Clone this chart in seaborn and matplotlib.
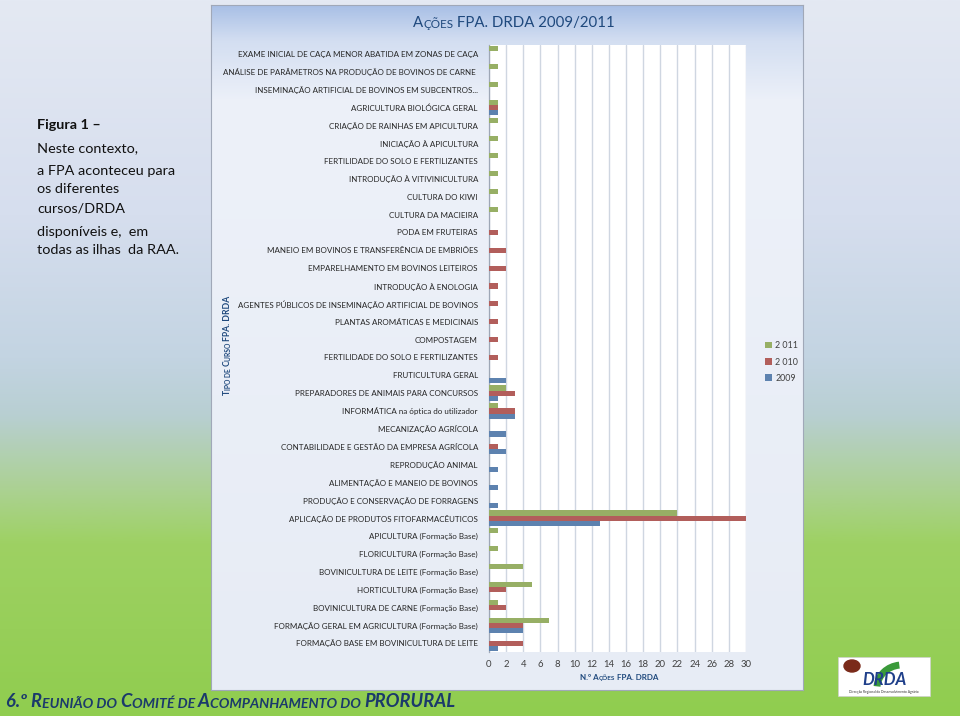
import numpy as np
import pandas as pd
import seaborn as sns
import matplotlib.pyplot as plt
from matplotlib.colors import LinearSegmentedColormap
from matplotlib.patches import Rectangle, Arc, Ellipse

# dados (de cima para baixo)
cursos = [
    "EXAME INICIAL DE CAÇA MENOR ABATIDA EM ZONAS DE CAÇA",
    "ANÁLISE DE PARÂMETROS NA PRODUÇÃO DE BOVINOS DE CARNE ",
    "INSEMINAÇÃO ARTIFICIAL DE BOVINOS EM SUBCENTROS...",
    "AGRICULTURA BIOLÓGICA GERAL",
    "CRIAÇÃO DE RAINHAS EM APICULTURA",
    "INICIAÇÃO À APICULTURA",
    "FERTILIDADE DO SOLO E FERTILIZANTES",
    "INTRODUÇÃO À VITIVINICULTURA",
    "CULTURA DO KIWI",
    "CULTURA DA MACIEIRA",
    "PODA EM FRUTEIRAS",
    "MANEIO EM BOVINOS E TRANSFERÊNCIA DE EMBRIÕES",
    "EMPARELHAMENTO EM BOVINOS LEITEIROS",
    "INTRODUÇÃO À ENOLOGIA",
    "AGENTES PÚBLICOS DE INSEMINAÇÃO ARTIFICIAL DE BOVINOS",
    "PLANTAS AROMÁTICAS E MEDICINAIS",
    "COMPOSTAGEM",
    "FERTILIDADE DO SOLO E FERTILIZANTES",
    "FRUTICULTURA GERAL",
    "PREPARADORES DE ANIMAIS PARA CONCURSOS",
    "INFORMÁTICA na óptica do utilizador",
    "MECANIZAÇÃO AGRÍCOLA",
    "CONTABILIDADE E GESTÃO DA EMPRESA AGRÍCOLA",
    "REPRODUÇÃO ANIMAL",
    "ALIMENTAÇÃO E MANEIO DE BOVINOS",
    "PRODUÇÃO E CONSERVAÇÃO DE FORRAGENS",
    "APLICAÇÃO DE PRODUTOS FITOFARMACÊUTICOS",
    "APICULTURA (Formação Base)",
    "FLORICULTURA (Formação Base)",
    "BOVINICULTURA DE LEITE (Formação Base)",
    "HORTICULTURA (Formação Base)",
    "BOVINICULTURA DE CARNE (Formação Base)",
    "FORMAÇÃO GERAL EM AGRICULTURA (Formação Base)",
    "FORMAÇÃO BASE EM BOVINICULTURA DE LEITE",
]
v2011 = [1, 1, 1, 1, 1, 1, 1, 1, 1, 1, 0, 0, 0, 0, 0, 0, 0, 0,
         0, 2, 1, 0, 0, 0, 0, 0, 22, 1, 1, 4, 5, 1, 7, 0]
v2010 = [0, 0, 0, 1, 0, 0, 0, 0, 0, 0, 1, 2, 2, 1, 1, 1, 1, 1,
         0, 3, 3, 0, 1, 0, 0, 0, 30, 0, 0, 0, 2, 2, 4, 4]
v2009 = [0, 0, 0, 1, 0, 0, 0, 0, 0, 0, 0, 0, 0, 0, 0, 0, 0, 0,
         2, 1, 3, 2, 2, 1, 1, 1, 13, 0, 0, 0, 0, 0, 4, 1]
anos = ["2 011", "2 010", "2009"]
cores = ["#9bbb59", "#c0504d", "#4f81bd"]
xticks = list(range(0, 31, 2))

# tabela longa (id único porque há um curso repetido)
ids = [f"c{i:02d}" for i in range(len(cursos))]
df = pd.concat([
    pd.DataFrame({"id": ids, "ano": ano, "n": vals})
    for ano, vals in zip(anos, [v2011, v2010, v2009])
])

sns.set_theme(style="white")
plt.rcParams["font.family"] = ["Lato", "DejaVu Sans"]
azul = "#1f497d"

W, H = 960, 716
fig = plt.figure(figsize=(9.6, 7.16), dpi=100)


def fx(px):
    return px / W


def fy(py):
    return 1 - py / H


def gradiente(rect, stops):
    a = fig.add_axes(rect)
    cmap = LinearSegmentedColormap.from_list("g", stops)
    a.imshow(np.linspace(0, 1, 256).reshape(-1, 1), aspect="auto", cmap=cmap,
             extent=[0, 1, 0, 1], origin="upper")
    a.set_xticks([])
    a.set_yticks([])
    return a


# fundo do diapositivo
bg = gradiente([0, 0, 1, 1], [(0, "#e4e9f3"), (0.3, "#d6deee"), (0.5, "#c3d4e2"),
                             (0.58, "#b8cfd2"), (0.68, "#acd195"), (0.76, "#9ed163"),
                             (1, "#90cd4f")])
for s in bg.spines.values():
    s.set_visible(False)

# caixa do gráfico
box = gradiente([fx(211), fy(690), fx(803 - 211), (690 - 5) / H],
                [(0, "#a9c0e6"), (0.05, "#d3def1"), (0.14, "#edf1f9"), (1, "#e7ecf5")])
for s in box.spines.values():
    s.set_color("#a0a8b8")
    s.set_linewidth(0.8)

# gráfico de barras
ax = fig.add_axes([fx(489), fy(652), fx(746 - 489), (652 - 45) / H])
ax.set_facecolor("white")
sns.barplot(data=df, y="id", x="n", hue="ano", hue_order=anos, palette=cores,
            order=ids, orient="h", width=0.86, linewidth=0, ax=ax, zorder=3)
ax.set_xlim(0, 30)
ax.set_ylim(len(cursos) - 0.5, -0.5)
ax.set_xticks(xticks)
ax.set_xticklabels([str(t) for t in xticks], fontsize=6.8, color="#404040")
ax.set_yticks(range(len(cursos)))
ax.set_yticklabels(cursos, fontsize=5.8, color="#262626")
ax.tick_params(axis="y", length=0, pad=8)
ax.tick_params(axis="x", length=3, color="#c4ccd8", pad=3)
ax.grid(axis="x", color="#cfd6e1", linewidth=1)
ax.set_axisbelow(True)
ax.set_xlabel("")
ax.set_ylabel("")
for k in ["top", "right", "bottom"]:
    ax.spines[k].set_visible(False)
ax.spines["left"].set_color("#9ea7b6")
ax.spines["left"].set_linewidth(0.9)

ax.legend(frameon=False, loc="center left", bbox_to_anchor=(fx(761), fy(362)),
          bbox_transform=fig.transFigure, fontsize=6.4, handlelength=0.7,
          handleheight=0.7, handletextpad=0.4, labelspacing=0.8, borderpad=0,
          labelcolor="#404040")

# camada de texto por cima de tudo
top = fig.add_axes([0, 0, 1, 1], facecolor="none")
top.set_axis_off()
top.set_zorder(10)


def cadeia(x, y, partes, rot=0, **kw):
    # texto em "versaletes": pedaços encadeados
    t = top.annotate(partes[0][0], xy=(x, y), xycoords="figure fraction",
                     fontsize=partes[0][1], rotation=rot,
                     ha="left" if rot == 0 else "right", va="bottom",
                     annotation_clip=False, **kw)
    for s, fs in partes[1:]:
        if rot == 0:
            t = top.annotate(s, xy=(1, 0), xycoords=t, fontsize=fs, ha="left",
                             va="bottom", annotation_clip=False, **kw)
        else:
            t = top.annotate(s, xy=(1, 1), xycoords=t, fontsize=fs, rotation=rot,
                             ha="right", va="bottom", annotation_clip=False, **kw)
    return t


# título
cadeia(fx(413), fy(30), [("A", 10.8), ("ÇÕES", 8.4), (" FPA. DRDA 2009/2011", 10.8)],
       color=azul)

# eixo y
cadeia(fx(232), fy(395), [("T", 6.2), ("IPO DE ", 4.9), ("C", 6.2), ("URSO ", 4.9),
                          ("FPA. DRDA", 6.2)], rot=90, color=azul, fontweight="bold")

# eixo x
cadeia(fx(580), fy(681), [("N.º A", 5.8), ("ÇÕES", 4.6), (" FPA. DRDA", 5.8)],
       color=azul, fontweight="bold")

# texto à esquerda
linhas = [("Figura 1 –", 125, "bold"), ("Neste contexto,", 148, "normal"),
          ("a FPA aconteceu para", 171, "normal"), ("os diferentes", 189, "normal"),
          ("cursos/DRDA", 209, "normal"), ("disponíveis e,  em", 232, "normal"),
          ("todas as ilhas  da RAA.", 250, "normal")]
for txt, py, w in linhas:
    fig.text(fx(37), fy(py), txt, fontsize=10.4, fontweight=w, color="#111111",
             va="center", ha="left")

# rodapé
cadeia(fx(6), fy(710), [("6.º R", 13.2), ("EUNIÃO DO ", 10.2), ("C", 13.2),
                        ("OMITÉ DE ", 10.2), ("A", 13.2), ("COMPANHAMENTO DO ", 10.2),
                        ("PRORURAL", 13.2)],
       color="#1b3a6b", fontweight="bold", fontstyle="italic")

# logótipo
fig.add_artist(Rectangle((fx(838), fy(696)), fx(92), 39 / H, transform=fig.transFigure,
                         facecolor="white", edgecolor="#d0d0d0", linewidth=0.5))
fig.add_artist(Arc((fx(902), fy(688)), fx(50), 46 / H, theta1=95, theta2=175,
                   transform=fig.transFigure, color="#3a9a3a", linewidth=5))
fig.add_artist(Ellipse((fx(852), fy(666)), fx(16), 12 / H, transform=fig.transFigure,
                       color="#7a2a1a"))
fig.text(fx(884), fy(680), "DRDA", fontsize=12, fontweight="bold", fontstyle="italic",
         color="#1f3f8a", ha="center", va="center")
fig.text(fx(884), fy(692.5), "Direcção Regional do Desenvolvimento Agrário",
         fontsize=2.4, color="#333333", ha="center", va="center")

fig.savefig("out.png", dpi=100)
